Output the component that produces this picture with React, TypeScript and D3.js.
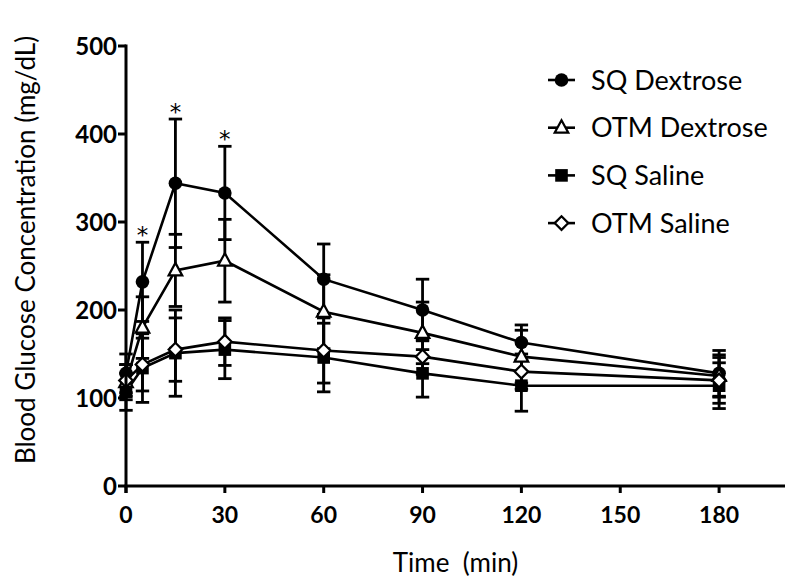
import React from "react";
import * as d3 from "d3";

const times = [0, 5, 15, 30, 60, 90, 120, 180];
const sqDexMean = [128, 232, 344, 333, 235, 200, 163, 128];
const sqDexSd = [22, 45, 73, 53, 40, 35, 20, 26];
const otmDexMean = [118, 180, 245, 256, 198, 174, 147, 125];
const otmDexSd = [20, 35, 41, 47, 42, 35, 30, 24];
const sqSalMean = [107, 134, 151, 155, 146, 128, 114, 114];
const sqSalSd = [21, 39, 49, 33, 39, 27, 29, 26];
const otmSalMean = [120, 138, 155, 164, 154, 147, 130, 120];
const otmSalSd = [18, 30, 36, 27, 37, 20, 20, 26];
const sigTimes = [5, 15, 30];
const xTicks = [0, 30, 60, 90, 120, 150, 180];
const yTicks = [0, 100, 200, 300, 400, 500];

type Series = { name: string; mean: number[]; sd: number[]; shape: string };
const seriesList: Series[] = [
  { name: "SQ Dextrose", mean: sqDexMean, sd: sqDexSd, shape: "circle" },
  { name: "OTM Dextrose", mean: otmDexMean, sd: otmDexSd, shape: "triangle" },
  { name: "SQ Saline", mean: sqSalMean, sd: sqSalSd, shape: "square" },
  { name: "OTM Saline", mean: otmSalMean, sd: otmSalSd, shape: "diamond" },
];

const FONT = "Lato, 'Open Sans', sans-serif";

function Marker({ shape, cx, cy }: { shape: string; cx: number; cy: number }) {
  if (shape === "circle")
    return <circle cx={cx} cy={cy} r={6.8} fill="#000" />;
  if (shape === "square")
    return <rect x={cx - 6.3} y={cy - 6.3} width={12.6} height={12.6} fill="#000" />;
  if (shape === "triangle") {
    const p = d3.path();
    p.moveTo(cx, cy - 7.5);
    p.lineTo(cx + 6.8, cy + 5);
    p.lineTo(cx - 6.8, cy + 5);
    p.closePath();
    return <path d={p.toString()} fill="#fff" stroke="#000" strokeWidth={2.2} />;
  }
  const p = d3.path();
  p.moveTo(cx, cy - 6.8);
  p.lineTo(cx + 6.8, cy);
  p.lineTo(cx, cy + 6.8);
  p.lineTo(cx - 6.8, cy);
  p.closePath();
  return <path d={p.toString()} fill="#fff" stroke="#000" strokeWidth={2.2} />;
}

export default function App() {
  const x = d3.scaleLinear().domain([0, 200]).range([126, 785]);
  const y = d3.scaleLinear().domain([0, 500]).range([486, 46]);
  const line = d3
    .line<number>()
    .x((_, i) => x(times[i]))
    .y((v) => y(v));
  const capW = 6.7;

  return (
    <svg
      width={800}
      height={584}
      style={{ position: "absolute", left: 0, top: 0, background: "#fff" }}
      fontFamily={FONT}
    >
      <rect width={800} height={584} fill="#fff" />
      {/* error bars */}
      {seriesList.map((s) =>
        s.mean.map((m, i) => {
          const cx = x(times[i]);
          const hi = y(m + s.sd[i]);
          const lo = y(m - s.sd[i]);
          return (
            <g key={s.name + i} stroke="#000" strokeWidth={2.8}>
              <line x1={cx} x2={cx} y1={hi} y2={lo} />
              <line x1={cx - capW} x2={cx + capW} y1={hi} y2={hi} />
              <line x1={cx - capW} x2={cx + capW} y1={lo} y2={lo} />
            </g>
          );
        })
      )}
      {/* lines */}
      {seriesList.map((s) => (
        <path key={s.name} d={line(s.mean) || ""} fill="none" stroke="#000" strokeWidth={2.6} />
      ))}
      {/* markers */}
      {seriesList.map((s) =>
        s.mean.map((m, i) => (
          <Marker key={s.name + "m" + i} shape={s.shape} cx={x(times[i])} cy={y(m)} />
        ))
      )}
      {/* significance asterisks */}
      {sigTimes.map((t) => {
        const i = times.indexOf(t);
        const top = y(sqDexMean[i] + sqDexSd[i]);
        return (
          <text
            key={"s" + t}
            x={x(t)}
            y={top - 12 + 13}
            textAnchor="middle"
            fontSize={23}
            fontFamily="'DejaVu Sans', sans-serif"
            fill="#000"
          >
            *
          </text>
        );
      })}
      {/* axes */}
      <g stroke="#000" strokeWidth={3} fill="none">
        <line x1={x(0)} x2={x(0)} y1={y(500) - 1.5} y2={y(0) + 7} />
        <line x1={x(0) - 1.5} x2={x(200)} y1={y(0)} y2={y(0)} />
        {yTicks.map((t) => (
          <line key={"yt" + t} x1={x(0) - 8} x2={x(0)} y1={y(t)} y2={y(t)} />
        ))}
        {xTicks.map((t) => (
          <line key={"xt" + t} x1={x(t)} x2={x(t)} y1={y(0)} y2={y(0) + 7} />
        ))}
      </g>
      {yTicks.map((t) => (
        <text key={"yl" + t} x={117} y={y(t) + 9} textAnchor="end" fontSize={24} fontWeight="bold" fill="#000">
          {t}
        </text>
      ))}
      {xTicks.map((t) => (
        <text key={"xl" + t} x={x(t)} y={523} textAnchor="middle" fontSize={23} fontWeight="bold" fill="#000">
          {t}
        </text>
      ))}
      <text x={455.5} y={572} textAnchor="middle" fontSize={26} fill="#000" xmlSpace="preserve">
        Time  (min)
      </text>
      <text
        transform="translate(35,250) rotate(-90)"
        textAnchor="middle"
        fontSize={26}
        fill="#000"
      >
        Blood Glucose Concentration (mg/dL)
      </text>
      {/* legend */}
      {seriesList.map((s, i) => {
        const cy = 80 + i * 47.7;
        return (
          <g key={"lg" + s.name}>
            <line x1={548} x2={575} y1={cy} y2={cy} stroke="#000" strokeWidth={2.6} />
            <Marker shape={s.shape} cx={561.5} cy={cy} />
            <text x={591} y={cy + 9.5} fontSize={27} fill="#000">
              {s.name}
            </text>
          </g>
        );
      })}
    </svg>
  );
}
